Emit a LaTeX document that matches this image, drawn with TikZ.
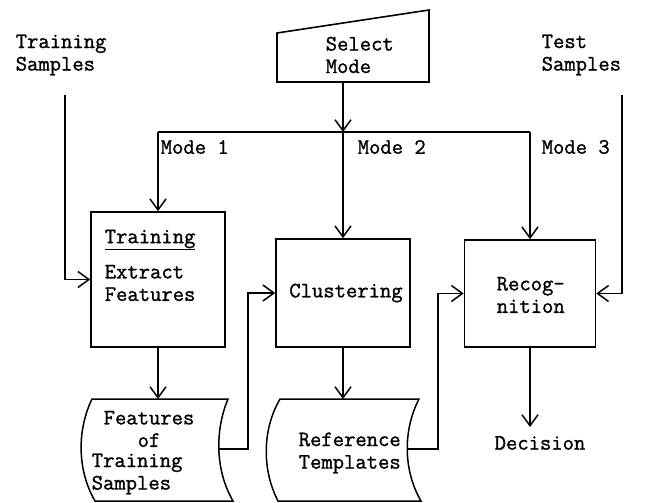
\documentclass[tikz,border=0pt]{standalone}
\usepackage{fontspec}
\newfontfamily\twfont[FakeBold=1.2]{Latin Modern Mono}
\usetikzlibrary{arrows.meta}
\begin{document}
\begin{tikzpicture}[x=1pt,y=-1pt, line width=1.5pt,
 lbl/.style={font=\fontsize{22}{22.5}\selectfont\twfont, inner sep=0pt, align=left},
 box/.style={draw, line width=1.6pt, inner sep=0pt},
 arr/.style={-{Straight Barb[length=11pt,width=16pt,line width=1.5pt]}}]
\useasboundingbox (0,0) rectangle (662,503);

% Select Mode (manual input)
\draw[line width=1.6pt] (277,33) -- (429,10) -- (429,82) -- (277,82) -- cycle;
\node[lbl, anchor=west] (selt) at (325,55) {Select\\Mode};
\coordinate (selbot) at (343,82);
\coordinate (bar) at (343,132);
\coordinate (barL) at (158,132);
\coordinate (barR) at (530,132);

% process boxes
\node[box, minimum width=134pt, minimum height=135pt] (train) at (158,279.5) {};
\node[box, minimum width=134pt, minimum height=108pt] (clus) at (343,293) {};
\node[box, minimum width=131pt, minimum height=107pt] (recog) at (530,293.5) {};

% box texts
\node[lbl, anchor=west] (ttrain) at (104,240) {\underline{Training}};
\node[lbl, anchor=west] (text) at (104,283) {Extract\\Features};
\node[lbl] (tclus) at (346,293) {Clustering};
\node[lbl, anchor=west] (trec) at (496,295) {Recog-\\nition};

% side inputs
\node[lbl, anchor=west] (trs) at (15,55) {Training\\Samples};
\node[lbl, anchor=west] (tes) at (541,55) {Test\\Samples};
\coordinate (trsl) at (65,95);
\coordinate (tesl) at (622,95);

% mode labels
\node[lbl, anchor=west] (m1) at (160,147) {Mode 1};
\node[lbl, anchor=west] (m2) at (357,147) {Mode 2};
\node[lbl, anchor=west] (m3) at (541,147) {Mode 3};

% documents
\draw (92,399) -- (228,399) .. controls (215,430) and (215,470) .. (233,501)
  -- (95,501) .. controls (77,470) and (77,430) .. (92,399) -- cycle;
\coordinate (ftop) at (158,399);
\coordinate (fright) at (219,449);
\node[lbl, align=center] (f1) at (149,429) {Features\\of};
\node[lbl, anchor=west] (f2) at (91,474) {Training\\Samples};

\draw (280,399) -- (419,399) .. controls (403,430) and (403,470) .. (421,501)
  -- (278,501) .. controls (262,470) and (262,430) .. (280,399) -- cycle;
\coordinate (rtop) at (343,399);
\coordinate (rright) at (407,449);
\node[lbl, anchor=west] (r1) at (298,453) {Reference\\Templates};

% decision
\coordinate (dec) at (530,427);
\node[lbl] (dect) at (540,443) {Decision};

% connectors
\draw[arr] (selbot) -- (bar);
\draw (barL) -- (barR);
\draw[arr] (barL) -- (train.north);
\draw[arr] (bar) -- (clus.north);
\draw[arr] (barR) -- (recog.north);
\draw[arr] (trsl) |- (train.west);
\draw[arr] (tesl) |- (recog.east);
\draw[arr] (train.south) -- (ftop);
\draw[arr] (clus.south) -- (rtop);
\draw[arr] (fright) -- (248,449) |- (clus.west);
\draw[arr] (rright) -- (438,449) |- (recog.west);
\draw[arr] (recog.south) -- (dec);
\end{tikzpicture}
\end{document}
